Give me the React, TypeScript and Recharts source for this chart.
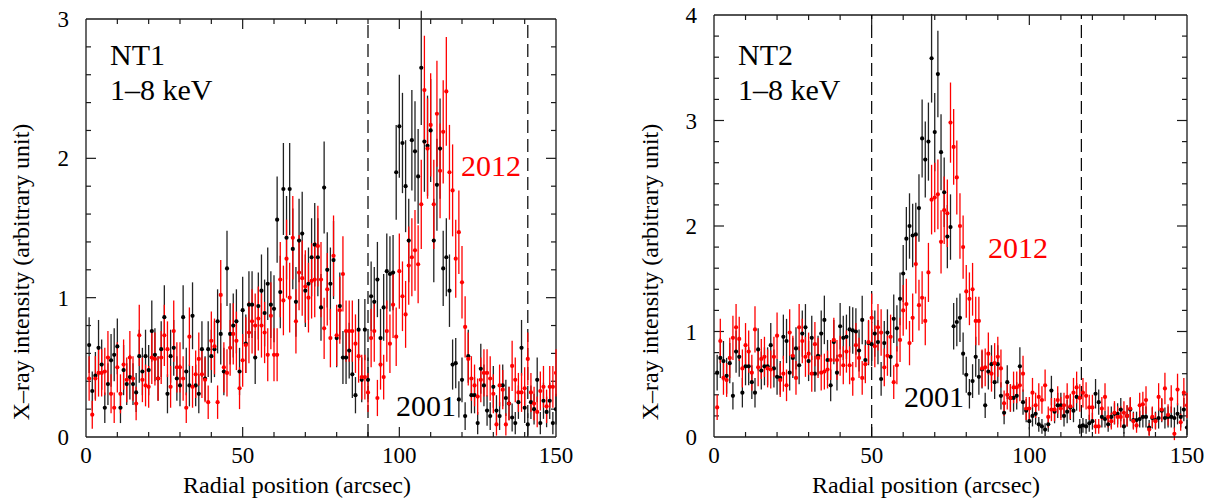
import { ErrorBar, ReferenceLine, Scatter, ScatterChart, XAxis, YAxis } from "recharts";

// radial bins, 1 arcsec wide
const radius = Array.from({ length: 150 }, (_, i) => i + 1);

const xTicks = [0, 50, 100, 150];
const nt1YTicks = [0, 1, 2, 3];
const nt2YTicks = [0, 1, 2, 3, 4];
const nt1Regions = [90, 141];
const nt2Regions = [50, 116.5];

const nt1Y2001 = [
	0.66, 0.33, 0.44, 0.64, 0.52, 0.21, 0.38, 0.55, 0.59, 0.65,
	0.21, 0.48, 0.38, 0.43, 0.38, 0.32, 0.58, 0.47, 0.58, 0.48,
	0.76, 0.59, 0.42, 0.63, 0.86, 0.31, 0.58, 0.64, 0.42, 0.37,
	0.86, 0.47, 0.37, 0.87, 0.37, 0.31, 0.63, 0.42, 0.63, 0.58,
	0.63, 0.83, 0.74, 0.47, 1.21, 0.74, 0.8, 0.83, 0.47, 0.91,
	0.67, 0.95, 0.95, 0.57, 0.94, 1.05, 0.89, 1.1, 0.95, 0.92,
	1.56, 1.04, 1.78, 1.43, 1.78, 1.35, 0.97, 1.41, 1.46, 1.05,
	1.1, 1.29, 1.38, 1.29, 0.93, 1.79, 1.2, 1.1, 1.27, 0.71,
	0.94, 0.57, 0.57, 0.62, 0.45, 0.3, 0.77, 0.41, 0.77, 0.41,
	1.01, 0.97, 1.13, 0.71, 0.93, 1.19, 1.17, 1.18, 1.9, 2.23,
	2.11, 1.8, 1.41, 2.13, 2.05, 1.87, 2.65, 2.12, 2.09, 2.2,
	1.41, 1.81, 2.07, 1.21, 1.29, 1.05, 0.52, 0.53, 0.27, 0.41,
	0.15, 0.58, 0.3, 0.3, 0.1, 0.49, 0.37, 0.19, 0.15, 0.36,
	0.19, 0.15, 0.37, 0.28, 0.24, 0.14, 0.1, 0.25, 0.64, 0.21,
	0.09, 0.25, 0.2, 0.41, 0.1, 0.26, 0.18, 0.26, 0.1, 0.2,
];
const nt1Err2001 = [
	0.2, 0.14, 0.17, 0.2, 0.18, 0.11, 0.15, 0.19, 0.19, 0.2,
	0.11, 0.18, 0.15, 0.16, 0.15, 0.14, 0.19, 0.17, 0.19, 0.18,
	0.22, 0.19, 0.16, 0.2, 0.23, 0.14, 0.19, 0.2, 0.16, 0.15,
	0.23, 0.17, 0.15, 0.24, 0.15, 0.14, 0.2, 0.16, 0.2, 0.19,
	0.2, 0.23, 0.22, 0.17, 0.27, 0.22, 0.23, 0.23, 0.17, 0.24,
	0.21, 0.24, 0.24, 0.19, 0.24, 0.26, 0.24, 0.26, 0.24, 0.24,
	0.31, 0.26, 0.33, 0.3, 0.33, 0.29, 0.25, 0.3, 0.3, 0.26,
	0.26, 0.28, 0.3, 0.28, 0.24, 0.33, 0.27, 0.26, 0.28, 0.21,
	0.24, 0.19, 0.19, 0.2, 0.17, 0.13, 0.22, 0.16, 0.22, 0.16,
	0.25, 0.25, 0.27, 0.21, 0.24, 0.27, 0.27, 0.27, 0.34, 0.37,
	0.36, 0.33, 0.3, 0.36, 0.36, 0.34, 0.41, 0.36, 0.36, 0.37,
	0.3, 0.33, 0.36, 0.27, 0.28, 0.26, 0.18, 0.18, 0.13, 0.16,
	0.1, 0.19, 0.13, 0.13, 0.08, 0.18, 0.15, 0.11, 0.1, 0.15,
	0.11, 0.1, 0.15, 0.13, 0.12, 0.1, 0.08, 0.12, 0.2, 0.11,
	0.08, 0.12, 0.11, 0.16, 0.08, 0.13, 0.11, 0.13, 0.08, 0.11,
];

const nt1Y2012 = [
	0.42, 0.16, 0.42, 0.46, 0.46, 0.47, 0.57, 0.31, 0.21, 0.5,
	0.31, 0.52, 0.41, 0.57, 0.42, 0.24, 0.73, 0.41, 0.37, 0.36,
	0.57, 0.56, 0.42, 0.57, 0.73, 0.63, 0.36, 0.76, 0.5, 0.5,
	0.42, 0.21, 0.72, 0.36, 0.45, 0.56, 0.45, 0.41, 0.25, 0.69,
	0.65, 0.25, 1.02, 0.5, 0.46, 0.64, 0.74, 0.69, 0.35, 0.55,
	0.66, 0.75, 0.83, 0.8, 0.85, 0.8, 0.75, 0.59, 0.87, 0.59,
	0.59, 1.13, 0.98, 1.28, 1.0, 1.43, 0.83, 1.18, 1.14, 1.08,
	1.0, 1.12, 1.13, 1.37, 1.13, 0.78, 1.06, 0.71, 1.3, 0.73,
	0.91, 1.17, 0.76, 0.76, 0.76, 0.67, 0.58, 0.43, 0.43, 0.32,
	0.71, 0.76, 0.28, 0.52, 0.43, 0.76, 0.67, 0.95, 0.72, 1.19,
	1.01, 0.88, 1.23, 1.29, 1.34, 1.24, 1.67, 2.49, 2.07, 2.24,
	1.67, 2.32, 1.91, 2.19, 2.48, 1.9, 1.77, 1.28, 1.47, 1.11,
	0.79, 0.56, 0.42, 0.37, 0.29, 0.41, 0.46, 0.46, 0.42, 0.31,
	0.09, 0.37, 0.34, 0.09, 0.24, 0.51, 0.41, 0.32, 0.32, 0.35,
	0.56, 0.32, 0.24, 0.18, 0.33, 0.36, 0.22, 0.36, 0.36, 0.46,
];
const nt1Err2012 = [
	0.16, 0.1, 0.16, 0.17, 0.17, 0.17, 0.19, 0.14, 0.11, 0.18,
	0.14, 0.18, 0.16, 0.19, 0.16, 0.12, 0.22, 0.16, 0.15, 0.15,
	0.19, 0.19, 0.16, 0.19, 0.22, 0.2, 0.15, 0.22, 0.18, 0.18,
	0.16, 0.11, 0.21, 0.15, 0.17, 0.19, 0.17, 0.16, 0.12, 0.21,
	0.2, 0.12, 0.25, 0.18, 0.17, 0.2, 0.22, 0.21, 0.15, 0.19,
	0.2, 0.22, 0.23, 0.23, 0.23, 0.23, 0.22, 0.19, 0.24, 0.19,
	0.19, 0.27, 0.25, 0.28, 0.25, 0.3, 0.23, 0.27, 0.27, 0.26,
	0.25, 0.27, 0.27, 0.29, 0.27, 0.22, 0.26, 0.21, 0.29, 0.22,
	0.24, 0.27, 0.22, 0.22, 0.22, 0.21, 0.19, 0.16, 0.16, 0.14,
	0.21, 0.22, 0.13, 0.18, 0.16, 0.22, 0.21, 0.24, 0.21, 0.27,
	0.25, 0.24, 0.28, 0.28, 0.29, 0.28, 0.32, 0.39, 0.36, 0.37,
	0.32, 0.38, 0.34, 0.37, 0.39, 0.34, 0.33, 0.28, 0.3, 0.26,
	0.22, 0.19, 0.16, 0.15, 0.13, 0.16, 0.17, 0.17, 0.16, 0.14,
	0.08, 0.15, 0.14, 0.08, 0.12, 0.18, 0.16, 0.14, 0.14, 0.15,
	0.19, 0.14, 0.12, 0.11, 0.14, 0.15, 0.12, 0.15, 0.15, 0.17,
];

const nt2Y2001 = [
	0.61, 0.75, 0.72, 0.58, 0.7, 0.39, 0.81, 0.76, 0.42, 0.67,
	0.67, 0.52, 0.42, 0.83, 0.63, 0.67, 0.67, 0.87, 0.65, 0.57,
	0.56, 0.95, 0.91, 0.61, 0.75, 0.84, 0.68, 0.98, 1.04, 0.72,
	0.94, 0.6, 0.77, 0.98, 1.11, 0.73, 0.49, 0.9, 0.61, 1.05,
	0.94, 0.95, 1.02, 1.01, 1.0, 0.82, 1.11, 0.73, 0.89, 0.88,
	0.98, 0.9, 0.55, 0.89, 0.99, 0.76, 1.12, 1.03, 1.31, 1.55,
	1.88, 2.0, 1.91, 1.92, 2.17, 2.83, 2.63, 2.8, 3.59, 2.89,
	3.44, 2.7, 2.32, 1.9, 1.99, 1.05, 1.09, 1.13, 0.79, 0.59,
	0.41, 0.53, 0.76, 0.57, 0.64, 0.3, 0.62, 0.69, 0.52, 0.69,
	0.39, 0.23, 0.52, 0.37, 0.37, 0.39, 0.67, 0.33, 0.25, 0.15,
	0.2, 0.22, 0.12, 0.1, 0.07, 0.12, 0.44, 0.24, 0.3, 0.3,
	0.2, 0.24, 0.28, 0.25, 0.38, 0.1, 0.11, 0.1, 0.13, 0.15,
	0.41, 0.33, 0.19, 0.17, 0.12, 0.19, 0.22, 0.22, 0.26, 0.1,
	0.2, 0.26, 0.16, 0.16, 0.17, 0.19, 0.19, 0.09, 0.18, 0.16,
	0.18, 0.25, 0.18, 0.19, 0.19, 0.18, 0.22, 0.19, 0.26, 0.09,
];
const nt2Err2001 = [
	0.17, 0.19, 0.19, 0.17, 0.19, 0.13, 0.2, 0.19, 0.14, 0.18,
	0.18, 0.16, 0.14, 0.2, 0.18, 0.18, 0.18, 0.21, 0.18, 0.17,
	0.16, 0.21, 0.21, 0.17, 0.19, 0.2, 0.18, 0.22, 0.22, 0.19,
	0.21, 0.17, 0.19, 0.22, 0.23, 0.19, 0.15, 0.21, 0.17, 0.22,
	0.21, 0.21, 0.22, 0.22, 0.22, 0.2, 0.23, 0.19, 0.21, 0.21,
	0.22, 0.21, 0.16, 0.21, 0.22, 0.19, 0.23, 0.22, 0.25, 0.27,
	0.3, 0.31, 0.3, 0.3, 0.32, 0.37, 0.36, 0.37, 0.42, 0.37,
	0.41, 0.36, 0.33, 0.3, 0.31, 0.22, 0.23, 0.23, 0.2, 0.17,
	0.14, 0.16, 0.19, 0.17, 0.18, 0.12, 0.17, 0.18, 0.16, 0.18,
	0.13, 0.11, 0.16, 0.13, 0.13, 0.13, 0.18, 0.12, 0.11, 0.08,
	0.1, 0.1, 0.07, 0.07, 0.06, 0.07, 0.14, 0.11, 0.12, 0.12,
	0.1, 0.11, 0.12, 0.11, 0.13, 0.07, 0.07, 0.07, 0.08, 0.08,
	0.14, 0.12, 0.1, 0.08, 0.07, 0.1, 0.1, 0.1, 0.11, 0.07,
	0.1, 0.11, 0.08, 0.08, 0.08, 0.1, 0.1, 0.07, 0.1, 0.08,
	0.1, 0.11, 0.1, 0.1, 0.1, 0.1, 0.1, 0.1, 0.11, 0.07,
];

const nt2Y2012 = [
	0.28, 0.91, 0.56, 0.54, 0.75, 0.94, 1.04, 0.93, 0.65, 0.87,
	0.81, 0.61, 1.02, 0.66, 0.74, 0.76, 0.65, 0.64, 0.76, 0.96,
	0.54, 0.6, 0.49, 0.99, 0.77, 0.56, 1.04, 0.91, 0.76, 0.79,
	0.6, 0.88, 0.75, 0.61, 0.62, 0.64, 0.73, 0.92, 0.73, 0.77,
	0.68, 0.81, 0.68, 0.55, 0.87, 0.75, 0.56, 0.69, 0.9, 1.13,
	0.86, 1.04, 0.99, 0.66, 0.77, 0.95, 0.52, 0.68, 0.92, 1.2,
	1.26, 0.89, 1.13, 1.64, 1.25, 1.32, 1.1, 1.56, 2.25, 2.27,
	2.3, 1.85, 2.15, 2.12, 2.98, 2.75, 2.46, 2.0, 1.8, 1.38,
	1.31, 1.4, 1.1, 1.1, 0.65, 0.66, 0.79, 0.6, 0.7, 0.76,
	0.65, 0.32, 0.4, 0.37, 0.47, 0.47, 0.49, 0.6, 0.27, 0.27,
	0.42, 0.3, 0.38, 0.35, 0.49, 0.19, 0.26, 0.26, 0.35, 0.27,
	0.3, 0.38, 0.29, 0.42, 0.47, 0.37, 0.42, 0.39, 0.28, 0.28,
	0.1, 0.1, 0.27, 0.38, 0.19, 0.15, 0.23, 0.19, 0.19, 0.23,
	0.2, 0.27, 0.15, 0.11, 0.3, 0.31, 0.35, 0.07, 0.19, 0.15,
	0.38, 0.26, 0.46, 0.21, 0.36, 0.03, 0.45, 0.14, 0.42, 0.3,
];
const nt2Err2012 = [
	0.12, 0.21, 0.16, 0.16, 0.19, 0.21, 0.22, 0.21, 0.18, 0.21,
	0.2, 0.17, 0.22, 0.18, 0.19, 0.19, 0.18, 0.18, 0.19, 0.22,
	0.16, 0.17, 0.15, 0.22, 0.19, 0.16, 0.22, 0.21, 0.19, 0.2,
	0.17, 0.21, 0.19, 0.17, 0.17, 0.18, 0.19, 0.21, 0.19, 0.19,
	0.18, 0.2, 0.18, 0.16, 0.21, 0.19, 0.16, 0.18, 0.21, 0.23,
	0.2, 0.22, 0.22, 0.18, 0.19, 0.21, 0.16, 0.18, 0.21, 0.24,
	0.24, 0.21, 0.23, 0.28, 0.24, 0.25, 0.23, 0.28, 0.33, 0.33,
	0.33, 0.3, 0.32, 0.32, 0.38, 0.36, 0.35, 0.31, 0.3, 0.25,
	0.25, 0.25, 0.23, 0.23, 0.18, 0.18, 0.2, 0.17, 0.19, 0.19,
	0.18, 0.12, 0.14, 0.13, 0.15, 0.15, 0.15, 0.17, 0.11, 0.11,
	0.14, 0.12, 0.13, 0.13, 0.15, 0.1, 0.11, 0.11, 0.13, 0.11,
	0.12, 0.13, 0.12, 0.14, 0.15, 0.13, 0.14, 0.13, 0.12, 0.12,
	0.07, 0.07, 0.11, 0.13, 0.1, 0.08, 0.11, 0.1, 0.1, 0.11,
	0.1, 0.11, 0.08, 0.07, 0.12, 0.12, 0.13, 0.06, 0.1, 0.08,
	0.13, 0.11, 0.15, 0.1, 0.13, 0.06, 0.15, 0.08, 0.14, 0.12,
];

const serif = "Liberation Serif, Tinos, Times New Roman, Times, DejaVu Serif, serif";
const ink = "#1a1a1a";
const red = "#ff0000";
const W = 609;
const H = 503;

function rows(ys: number[], errs: number[]) {
	return ys.map((y, i) => ({ x: radius[i], y, err: errs[i] }));
}

const dot = (color: string) => (p: any) => <circle cx={p.cx} cy={p.cy} r={2.1} fill={color} />;

// inward ticks on all four sides of the frame
function frameTicks(yMax: number, pxX: number, pxY: number) {
	const segs: { x: number; y: number }[][] = [];
	for (let k = 1; k < 15; k++) {
		const x = k * 10;
		const len = (k % 5 === 0 ? 10 : 5) / pxY;
		segs.push([{ x, y: 0 }, { x, y: len }]);
		segs.push([{ x, y: yMax }, { x, y: yMax - len }]);
	}
	const n = Math.round(yMax / 0.2);
	for (let k = 1; k < n; k++) {
		const y = k * 0.2;
		const len = (k % 5 === 0 ? 10 : 5) / pxX;
		segs.push([{ x: 0, y }, { x: len, y }]);
		segs.push([{ x: 150, y }, { x: 150 - len, y }]);
	}
	return segs;
}

type PanelProps = {
	left: number;
	top: number;
	axisWidth: number;
	right: number;
	yMax: number;
	yTicks: number[];
	regions: number[];
	old: { x: number; y: number; err: number }[];
	recent: { x: number; y: number; err: number }[];
};

function Panel({ left, top, axisWidth, right, yMax, yTicks, regions, old, recent }: PanelProps) {
	const plotW = W - axisWidth - right;
	const plotH = H - top - 6 - 60;
	const segs = frameTicks(yMax, plotW / 150, plotH / yMax);
	const tick = { fontSize: 23, fill: "#000", style: { fontFamily: serif } };
	return (
		<div style={{ position: "absolute", left, top: 0 }}>
			<ScatterChart width={W} height={H} margin={{ top, right, bottom: 6, left: 0 }} style={{ fontFamily: serif }}>
				<XAxis
					type="number"
					dataKey="x"
					domain={[0, 150]}
					ticks={xTicks}
					interval={0}
					allowDataOverflow
					height={60}
					tickLine={false}
					tickSize={6}
					tickMargin={4}
					axisLine={{ stroke: ink, strokeWidth: 1.3 }}
					tick={tick}
				/>
				<YAxis
					type="number"
					dataKey="y"
					domain={[0, yMax]}
					ticks={yTicks}
					interval={0}
					allowDataOverflow
					width={axisWidth}
					tickLine={false}
					tickSize={6}
					tickMargin={11}
					axisLine={{ stroke: ink, strokeWidth: 1.3 }}
					tick={tick}
				/>
				<ReferenceLine y={yMax} stroke={ink} strokeWidth={1.3} />
				<ReferenceLine x={150} stroke={ink} strokeWidth={1.3} />
				{segs.map((s, i) => (
					<ReferenceLine key={"t" + i} segment={s} stroke={ink} strokeWidth={1.2} />
				))}
				{regions.map((x) => (
					<ReferenceLine key={"r" + x} x={x} stroke="#000" strokeWidth={1.2} strokeDasharray="13 6" />
				))}
				<Scatter data={old} fill="#000" shape={dot("#000")} isAnimationActive={false}>
					<ErrorBar dataKey="err" direction="y" width={0} stroke="#222" strokeWidth={1.3} isAnimationActive={false} />
				</Scatter>
				<Scatter data={recent} fill={red} shape={dot(red)} isAnimationActive={false}>
					<ErrorBar dataKey="err" direction="y" width={0} stroke={red} strokeWidth={1.3} isAnimationActive={false} />
				</Scatter>
			</ScatterChart>
		</div>
	);
}

const notes = [
	{ text: "NT1", x: 110, y: 65, size: 30, color: "#000" },
	{ text: "1–8 keV", x: 110, y: 100, size: 30, color: "#000" },
	{ text: "2012", x: 461, y: 176, size: 30, color: red },
	{ text: "2001", x: 396, y: 416, size: 30, color: "#000" },
	{ text: "NT2", x: 738, y: 65, size: 30, color: "#000" },
	{ text: "1–8 keV", x: 738, y: 100, size: 30, color: "#000" },
	{ text: "2012", x: 988, y: 258, size: 30, color: red },
	{ text: "2001", x: 904, y: 407, size: 30, color: "#000" },
];

const textStyle = { fontFamily: serif };

export default function App() {
	return (
		<div style={{ position: "absolute", left: 0, top: 0, width: 1218, height: 503, background: "#fff", fontFamily: serif }}>
			<Panel
				left={0}
				top={19}
				axisWidth={86}
				right={53}
				yMax={3}
				yTicks={nt1YTicks}
				regions={nt1Regions}
				old={rows(nt1Y2001, nt1Err2001)}
				recent={rows(nt1Y2012, nt1Err2012)}
			/>
			<Panel
				left={609}
				top={15}
				axisWidth={105}
				right={31}
				yMax={4}
				yTicks={nt2YTicks}
				regions={nt2Regions}
				old={rows(nt2Y2001, nt2Err2001)}
				recent={rows(nt2Y2012, nt2Err2012)}
			/>
			<svg width={1218} height={503} style={{ position: "absolute", left: 0, top: 0, pointerEvents: "none" }}>
				{notes.map((n, i) => (
					<text key={i} x={n.x} y={n.y} fontSize={n.size} fill={n.color} style={textStyle}>
						{n.text}
					</text>
				))}
				<text x={297} y={493} fontSize={24} textAnchor="middle" style={textStyle}>
					Radial position (arcsec)
				</text>
				<text x={926} y={493} fontSize={24} textAnchor="middle" style={textStyle}>
					Radial position (arcsec)
				</text>
				<text x={29} y={272} fontSize={24} textAnchor="middle" style={textStyle} transform="rotate(-90 29 272)">
					X–ray intensity (arbitrary unit)
				</text>
				<text x={658} y={272} fontSize={24} textAnchor="middle" style={textStyle} transform="rotate(-90 658 272)">
					X–ray intensity (arbitrary unit)
				</text>
			</svg>
		</div>
	);
}
